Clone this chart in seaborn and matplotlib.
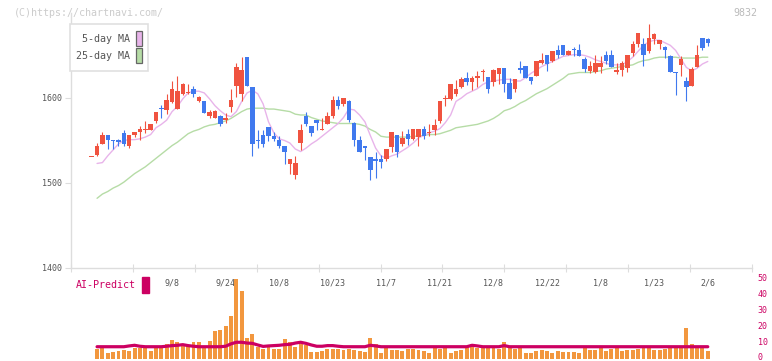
"""Recreate the chartnavi-style candlestick chart with MA lines and an AI-Predict volume panel."""

import matplotlib
matplotlib.use("Agg")
import matplotlib.pyplot as plt
import matplotlib.transforms as mtransforms
import numpy as np
import pandas as pd
import seaborn as sns
from matplotlib.patches import Rectangle

# ---- data ------------------------------------------------------------------
opens = [1530, 1533, 1546, 1556, 1551, 1550, 1559, 1543, 1557, 1560,
         1562, 1562, 1573, 1588, 1586, 1595, 1587, 1605, 1606, 1611,
         1597, 1596, 1579, 1577, 1579, 1574, 1589, 1614, 1605, 1648,
         1613, 1551, 1557, 1566, 1555, 1551, 1544, 1522, 1509, 1547,
         1579, 1567, 1574, 1562, 1569, 1579, 1598, 1593, 1596, 1571,
         1551, 1543, 1531, 1528, 1528, 1528, 1542, 1556, 1546, 1558,
         1552, 1554, 1563, 1559, 1562, 1573, 1599, 1599, 1605, 1613,
         1624, 1619, 1624, 1630, 1625, 1619, 1628, 1635, 1618, 1611,
         1635, 1638, 1625, 1626, 1641, 1651, 1643, 1657, 1662, 1650,
         1657, 1657, 1646, 1632, 1630, 1636, 1651, 1651, 1630, 1633,
         1635, 1653, 1664, 1664, 1655, 1669, 1663, 1660, 1649, 1631,
         1639, 1620, 1614, 1637, 1670, 1669]
highs = [1530, 1547, 1560, 1556, 1551, 1552, 1562, 1556, 1560, 1567,
         1573, 1569, 1584, 1592, 1605, 1620, 1626, 1618, 1617, 1614,
         1602, 1596, 1586, 1586, 1580, 1582, 1610, 1641, 1648, 1648,
         1613, 1562, 1562, 1566, 1560, 1555, 1544, 1528, 1532, 1569,
         1583, 1567, 1574, 1576, 1584, 1602, 1602, 1600, 1598, 1572,
         1555, 1544, 1531, 1537, 1533, 1540, 1560, 1556, 1561, 1563,
         1563, 1563, 1567, 1569, 1575, 1596, 1604, 1616, 1621, 1625,
         1631, 1626, 1632, 1634, 1625, 1634, 1635, 1635, 1624, 1622,
         1643, 1638, 1625, 1643, 1653, 1651, 1655, 1662, 1662, 1657,
         1660, 1664, 1648, 1643, 1651, 1649, 1655, 1656, 1641, 1643,
         1651, 1667, 1676, 1671, 1687, 1676, 1668, 1661, 1651, 1631,
         1649, 1625, 1637, 1662, 1670, 1670]
lows = [1530, 1532, 1546, 1540, 1540, 1543, 1543, 1541, 1554, 1551,
        1559, 1562, 1570, 1577, 1581, 1594, 1587, 1604, 1605, 1601,
        1595, 1582, 1576, 1576, 1567, 1571, 1583, 1601, 1596, 1614,
        1532, 1541, 1542, 1549, 1549, 1541, 1522, 1511, 1505, 1539,
        1567, 1555, 1562, 1562, 1569, 1577, 1587, 1590, 1572, 1544,
        1537, 1527, 1503, 1506, 1518, 1526, 1537, 1531, 1543, 1545,
        1550, 1544, 1552, 1555, 1556, 1571, 1590, 1598, 1602, 1612,
        1615, 1609, 1613, 1620, 1606, 1614, 1617, 1607, 1599, 1607,
        1629, 1624, 1616, 1626, 1640, 1632, 1642, 1647, 1650, 1650,
        1649, 1649, 1631, 1629, 1629, 1629, 1640, 1636, 1628, 1626,
        1630, 1649, 1660, 1638, 1653, 1664, 1658, 1647, 1631, 1604,
        1626, 1596, 1614, 1636, 1657, 1661]
closes = [1530, 1544, 1556, 1550, 1549, 1548, 1546, 1556, 1560, 1563,
          1564, 1569, 1583, 1587, 1598, 1611, 1608, 1616, 1607, 1605,
          1601, 1582, 1584, 1585, 1569, 1577, 1598, 1636, 1633, 1614,
          1546, 1549, 1546, 1555, 1552, 1543, 1537, 1528, 1524, 1562,
          1569, 1559, 1570, 1563, 1579, 1598, 1591, 1600, 1574, 1550,
          1537, 1541, 1515, 1526, 1525, 1540, 1560, 1536, 1553, 1552,
          1563, 1563, 1555, 1560, 1568, 1596, 1600, 1616, 1611, 1622,
          1619, 1624, 1626, 1632, 1610, 1633, 1635, 1617, 1599, 1622,
          1633, 1624, 1620, 1643, 1645, 1640, 1655, 1650, 1650, 1655,
          1656, 1649, 1634, 1638, 1641, 1641, 1643, 1637, 1633, 1641,
          1651, 1664, 1676, 1651, 1670, 1675, 1668, 1657, 1631, 1629,
          1646, 1613, 1634, 1651, 1659, 1665]

ma5 = [np.nan, 1523, 1524, 1532, 1539, 1546, 1550, 1551, 1551, 1552,
       1554, 1557, 1565, 1569, 1574, 1584, 1590, 1599, 1606, 1608,
       1608, 1606, 1599, 1591, 1585, 1580, 1578, 1584, 1596, 1606,
       1609, 1605, 1593, 1572, 1559, 1552, 1550, 1547, 1540, 1537,
       1541, 1546, 1550, 1555, 1560, 1565, 1570, 1577, 1587, 1586,
       1580, 1572, 1556, 1541, 1532, 1529, 1532, 1534, 1538, 1542,
       1547, 1553, 1556, 1559, 1561, 1564, 1571, 1580, 1596, 1600,
       1605, 1608, 1611, 1616, 1619, 1620, 1621, 1622, 1622, 1620,
       1620, 1624, 1629, 1633, 1637, 1640, 1643, 1646, 1649, 1650,
       1651, 1651, 1650, 1648, 1645, 1643, 1641, 1639, 1639, 1639,
       1643, 1648, 1655, 1662, 1666, 1668, 1668, 1665, 1662, 1656,
       1646, 1636, 1632, 1635, 1640, 1643]
ma25 = [np.nan, 1482, 1487, 1490, 1494, 1497, 1501, 1506, 1511, 1515,
        1519, 1524, 1529, 1534, 1539, 1544, 1548, 1553, 1558, 1561,
        1563, 1566, 1568, 1569, 1571, 1573, 1576, 1580, 1584, 1587,
        1588, 1588, 1588, 1587, 1587, 1586, 1585, 1584, 1581, 1580,
        1580, 1577, 1575, 1573, 1572, 1571, 1570, 1570, 1570, 1570,
        1569, 1567, 1563, 1560, 1555, 1554, 1554, 1554, 1554, 1554,
        1555, 1555, 1556, 1557, 1557, 1558, 1560, 1562, 1565, 1566,
        1567, 1568, 1569, 1571, 1573, 1576, 1580, 1585, 1587, 1590,
        1594, 1597, 1601, 1605, 1608, 1611, 1615, 1619, 1623, 1628,
        1629, 1630, 1630, 1630, 1631, 1632, 1634, 1635, 1636, 1637,
        1638, 1639, 1642, 1644, 1645, 1647, 1648, 1648, 1648, 1648,
        1647, 1647, 1647, 1647, 1648, 1648]

volume = [np.nan, 6.1, 6.9, 3.6, 4.2, 4.8, 5.4, 4.8, 6.9, 6.9,
          6.9, 4.8, 6.9, 7.3, 9.6, 11.7, 10.5, 9.0, 7.9, 10.5,
          10.5, 7.9, 11.1, 17.4, 18.0, 20.5, 26.8, 50.0, 42.5, 13.0,
          15.5, 7.5, 6.1, 7.5, 6.1, 6.1, 12.3, 10.5, 7.5, 9.6,
          9.0, 4.2, 4.2, 5.0, 6.1, 6.1, 6.1, 5.6, 6.1, 5.6,
          5.0, 4.4, 13.4, 9.6, 3.8, 6.9, 5.6, 5.6, 4.8, 6.1,
          6.1, 5.6, 5.2, 3.6, 7.1, 6.1, 7.1, 3.6, 5.2, 5.6,
          8.0, 9.2, 7.1, 7.1, 7.1, 6.9, 6.1, 10.5, 6.9, 6.1,
          6.9, 3.6, 3.6, 4.8, 5.4, 4.8, 3.6, 4.8, 4.4, 4.4,
          4.4, 3.6, 6.9, 5.6, 5.6, 6.9, 4.8, 6.1, 6.9, 4.8,
          5.6, 5.6, 6.1, 6.9, 6.9, 5.6, 5.6, 6.1, 6.9, 6.9,
          6.9, 19.2, 9.2, 6.9, 6.9, 4.8]
ai_predict = [np.nan, 7.7, 7.7, 7.7, 7.7, 7.7, 7.7, 8.2, 8.6, 8.0,
              7.7, 7.7, 7.7, 7.7, 8.0, 8.4, 8.6, 9.0, 8.4, 8.0,
              7.7, 7.7, 7.7, 7.7, 7.7, 8.0, 9.5, 10.5, 10.5, 10.0,
              9.8, 8.8, 7.9, 8.2, 8.4, 8.6, 9.0, 9.2, 10.0, 10.5,
              9.8, 8.8, 8.0, 8.0, 8.4, 8.4, 8.0, 7.7, 7.7, 7.7,
              7.7, 7.7, 8.6, 8.2, 7.7, 7.7, 7.7, 7.7, 7.7, 7.7,
              7.7, 7.7, 7.7, 7.7, 7.7, 7.7, 7.7, 7.7, 7.7, 7.7,
              7.7, 8.6, 8.2, 7.7, 7.7, 7.7, 7.7, 8.4, 7.7, 7.7,
              7.7, 7.7, 7.7, 7.7, 7.7, 7.7, 7.7, 7.7, 7.7, 7.7,
              7.7, 7.7, 7.7, 7.7, 7.7, 7.7, 7.7, 7.7, 7.7, 7.7,
              7.7, 7.7, 7.7, 7.7, 7.7, 7.7, 7.7, 7.7, 7.7, 7.7,
              7.7, 7.7, 7.7, 7.7, 7.7, 7.7]

date_labels = ["9/8", "9/24", "10/8", "10/23", "11/7", "11/21",
               "12/8", "12/22", "1/8", "1/23", "2/6"]
date_positions = [15, 25, 35, 45, 55, 65, 75, 85, 95, 105, 115]
price_ticks = [1400, 1500, 1600]
volume_ticks = [0, 10, 20, 30, 40, 50]

# ---- styling ---------------------------------------------------------------
RED = "#f05340"
BLUE = "#4079ee"
PINK = "#e8b4ea"
GREEN = "#b6dca6"
ORANGE = "#f2973e"
CRIMSON = "#cc0062"
AXIS_GREY = "#dddddd"
TEXT_GREY = "#555555"

sns.set_theme(style="white")
plt.rcParams["font.family"] = ["DejaVu Sans Mono"]

W, H = 772, 361
fig = plt.figure(figsize=(W / 100, H / 100), dpi=100)


def px_box(x0, y0, x1, y1):
    return [x0 / W, 1 - y1 / H, (x1 - x0) / W, (y1 - y0) / H]


ax = fig.add_axes(px_box(70.7, 13, 752.3, 268))
axv = fig.add_axes(px_box(70.7, 279.3, 752.3, 359), sharex=ax)

df = pd.DataFrame({
    "idx": np.arange(len(closes)),
    "open": opens, "high": highs, "low": lows, "close": closes,
    "ma5": ma5, "ma25": ma25, "volume": volume, "ai": ai_predict,
})
up = df["close"] >= df["open"]
colors = np.where(up, RED, BLUE)

# moving averages sit behind the candles
sns.lineplot(data=df, x="idx", y="ma25", ax=ax, color=GREEN, lw=1.0, zorder=1)
sns.lineplot(data=df, x="idx", y="ma5", ax=ax, color=PINK, lw=1.0, zorder=1)

ax.vlines(df["idx"], df["low"], df["high"], colors=colors, lw=0.8, zorder=2)
body_low = np.minimum(df["open"], df["close"])
body_h = np.maximum((df["close"] - df["open"]).abs(), 1.3)
ax.bar(df["idx"], body_h, bottom=body_low, width=0.84, color=colors,
       linewidth=0, zorder=3)

ax.set_xlim(-3.92, 123.31)
ax.set_ylim(1400, 1700)
ax.set_xlabel("")
ax.set_ylabel("")
for side in ("top", "right"):
    ax.spines[side].set_visible(False)
for side in ("left", "bottom"):
    ax.spines[side].set_color(AXIS_GREY)
    ax.spines[side].set_linewidth(1.0)

ax.set_yticks(price_ticks)
ax.set_yticklabels([str(t) for t in price_ticks], fontsize=6, color=TEXT_GREY)
ax.tick_params(axis="y", direction="out", length=4.3, width=0.8,
               color=AXIS_GREY, pad=2, left=True)
ax.set_xticks(np.linspace(-3.92, 123.31, 12))
ax.tick_params(axis="x", direction="inout", length=5.8, width=0.8,
               color=AXIS_GREY, bottom=True, labelbottom=False)

for pos, lab in zip(date_positions, date_labels):
    ax.text(pos, -0.058, lab, transform=ax.get_xaxis_transform(),
            ha="center", va="center", fontsize=6, color=TEXT_GREY, zorder=0)

# volume panel
axv.bar(df["idx"], df["volume"], width=0.74, color=ORANGE, linewidth=0, zorder=2)
sns.lineplot(data=df, x="idx", y="ai", ax=axv, color=CRIMSON, lw=2.3, zorder=3)
axv.set_ylim(0, 50)
axv.set_xlabel("")
axv.set_ylabel("")
for side in axv.spines:
    axv.spines[side].set_visible(False)
axv.yaxis.tick_right()
axv.set_yticks(volume_ticks)
axv.set_yticklabels([str(t) for t in volume_ticks], fontsize=6, color=CRIMSON)
axv.tick_params(axis="y", length=0, pad=4, right=True)
axv.tick_params(axis="x", length=0, labelbottom=False, bottom=False)
axv.patch.set_alpha(0)
# nudge the right-hand labels up a little so "0" stays inside the canvas
lift = mtransforms.ScaledTranslation(0, 2 / 100, fig.dpi_scale_trans)
for lab in axv.get_yticklabels():
    lab.set_transform(lab.get_transform() + lift)

fig.text(75.7 / W, 1 - 285.5 / H, "AI-Predict", ha="left", va="center",
         fontsize=7.2, color=CRIMSON)
fig.patches.append(Rectangle((142.3 / W, 1 - 292.7 / H), 6.5 / W, 15.4 / H,
                             transform=fig.transFigure, color=CRIMSON))

# legend box
fig.patches.append(Rectangle((70.3 / W, 1 - 71 / H), 78 / W, 47 / H,
                             transform=fig.transFigure, facecolor="white",
                             edgecolor="#e0e0e0", lw=1.2, zorder=5))
for ytop, ycen, label, col in [(31, 38.5, "5-day MA", PINK),
                               (48.3, 56, "25-day MA", GREEN)]:
    fig.text(129.5 / W, 1 - ycen / H, label, ha="right", va="center",
             fontsize=7.2, color=TEXT_GREY, zorder=6)
    fig.patches.append(Rectangle((136.2 / W, 1 - (ytop + 15) / H), 6.3 / W, 15 / H,
                                 transform=fig.transFigure, facecolor=col,
                                 edgecolor="#666666", lw=0.9, zorder=6))

fig.text(14 / W, 1 - 12.5 / H, "(C)https://chartnavi.com/", ha="left",
         va="center", fontsize=7.2, color="#cccccc")
fig.text(757 / W, 1 - 12.5 / H, "9832", ha="right", va="center",
         fontsize=7.2, color="#bbbbbb")

fig.savefig("out.png", dpi=100)
plt.close(fig)
